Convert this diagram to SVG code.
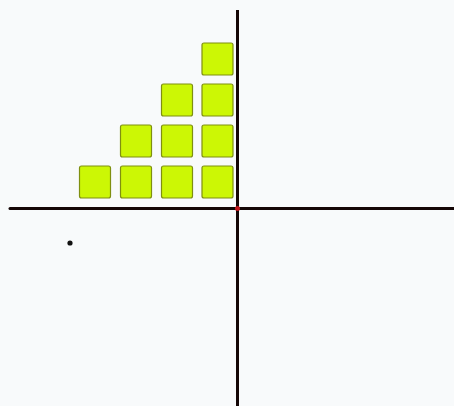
<svg xmlns="http://www.w3.org/2000/svg" width="454" height="406" viewBox="0 0 454 406">
<style>
.sq{fill:#ccf705;stroke:#7f8f10;stroke-width:1.2}
.ax{stroke:#140606;stroke-width:3;fill:none}
</style>
<rect width="454" height="406" fill="#f8fafb"/>
<g id="blocks">
<rect class="sq" x="202" y="43" width="31" height="32" rx="2"/>
<rect class="sq" x="161.5" y="84" width="31" height="32" rx="2"/>
<rect class="sq" x="202" y="84" width="31" height="32" rx="2"/>
<rect class="sq" x="120.5" y="125" width="31" height="32" rx="2"/>
<rect class="sq" x="161.5" y="125" width="31" height="32" rx="2"/>
<rect class="sq" x="202" y="125" width="31" height="32" rx="2"/>
<rect class="sq" x="79.5" y="166" width="31" height="32" rx="2"/>
<rect class="sq" x="120.5" y="166" width="31" height="32" rx="2"/>
<rect class="sq" x="161.5" y="166" width="31" height="32" rx="2"/>
<rect class="sq" x="202" y="166" width="31" height="32" rx="2"/>
</g>
<g id="axes">
<line class="ax" x1="10" y1="208.5" x2="454" y2="208.5" stroke-linecap="round"/>
<line class="ax" x1="237.5" y1="10" x2="237.5" y2="406"/>
<circle cx="237.5" cy="208.5" r="2.5" fill="#c0141a"/>
</g>
<circle cx="70" cy="243" r="2.6" fill="#111"/>
</svg>
